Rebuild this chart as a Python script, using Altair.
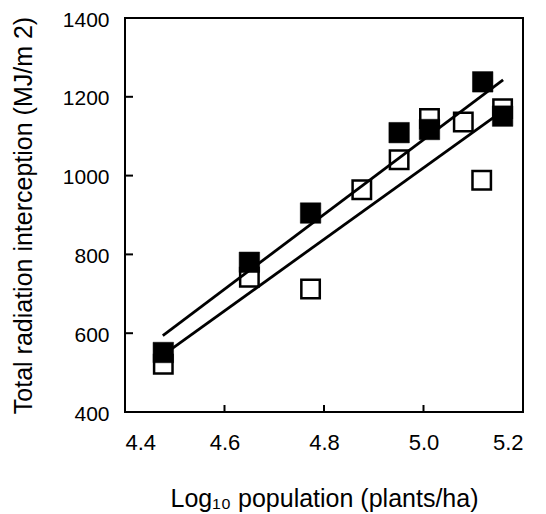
import altair as alt
import pandas as pd

# Filled squares
filled_x = [4.477, 4.650, 4.773, 4.951, 5.012, 5.119, 5.159]
filled_y = [551, 780, 905, 1109, 1117, 1238, 1151]
# Open squares
open_x = [4.477, 4.650, 4.773, 4.876, 4.951, 5.012, 5.080, 5.117, 5.159]
open_y = [521, 742, 712, 964, 1040, 1145, 1136, 988, 1170]
# Regression line end points
upper_x = [4.476, 5.160]
upper_y = [594, 1243]
lower_x = [4.477, 5.160]
lower_y = [545, 1165]
# Axis ticks
x_tick_vals = [4.6, 4.8, 5.0]
y_tick_vals = [600, 800, 1000, 1200]
x_label_vals = [4.4, 4.6, 4.8, 5.0, 5.2]
y_label_vals = [400, 600, 800, 1000, 1200, 1400]

FONT = "Liberation Sans"
W, H = 398, 394

filled_df = pd.DataFrame({"x": filled_x, "y": filled_y})
open_df = pd.DataFrame({"x": open_x, "y": open_y})
lines_df = pd.DataFrame({
    "x": upper_x + lower_x,
    "y": upper_y + lower_y,
    "s": ["upper"] * len(upper_x) + ["lower"] * len(lower_x),
})
xt_df = pd.DataFrame({"x": x_tick_vals})
yt_df = pd.DataFrame({"y": y_tick_vals})

xscale = alt.Scale(domain=[4.4, 5.2], nice=False, zero=False)
yscale = alt.Scale(domain=[400, 1400], nice=False, zero=False)

xaxis = alt.Axis(
    values=x_label_vals, format=".1f", ticks=False, domain=False, grid=False,
    labelFont=FONT, labelFontSize=22, labelColor="black", labelPadding=20,
    title="Log\u2081\u2080 population (plants/ha)", titleFont=FONT,
    titleFontSize=25, titleFontWeight="normal", titleColor="black",
    titleY=94, titleBaseline="alphabetic",
)
yaxis = alt.Axis(
    values=y_label_vals, format="d", ticks=False, domain=False, grid=False,
    labelFont=FONT, labelFontSize=21, labelColor="black", labelPadding=16,
    labelOffset=2,
    title="Total radiation interception (MJ/m 2)", titleFont=FONT,
    titleFontSize=25, titleFontWeight="normal", titleColor="black",
    titleX=-94, titleBaseline="alphabetic",
)

X = alt.X("x:Q", scale=xscale, axis=xaxis)
Y = alt.Y("y:Q", scale=yscale, axis=yaxis)

open_pts = alt.Chart(open_df).mark_point(
    shape="square", size=340, filled=False, fill="white", fillOpacity=1,
    stroke="black", strokeWidth=2.5, opacity=1,
).encode(x=X, y=Y)

lines = alt.Chart(lines_df).mark_line(color="black", strokeWidth=2.8).encode(
    x=X, y=Y, detail="s:N"
)

filled_pts = alt.Chart(filled_df).mark_point(
    shape="square", size=420, filled=True, fill="black", stroke="black",
    strokeWidth=0.5, opacity=1,
).encode(x=X, y=Y)

x_ticks = alt.Chart(xt_df).mark_rule(color="black", strokeWidth=2).encode(
    x=X, y=alt.value(H), y2=alt.value(H - 7)
)
y_ticks = alt.Chart(yt_df).mark_rule(color="black", strokeWidth=2).encode(
    y=Y, x=alt.value(0), x2=alt.value(8)
)

chart = alt.layer(open_pts, lines, filled_pts, x_ticks, y_ticks).properties(
    width=W, height=H,
    autosize=alt.AutoSizeParams(type="none"),
    padding={"left": 117, "top": 10, "right": 15, "bottom": 100},
    background="white",
).configure_view(stroke="black", strokeWidth=2)

chart.save("out.html", embed_options={"renderer": "svg", "actions": False})
